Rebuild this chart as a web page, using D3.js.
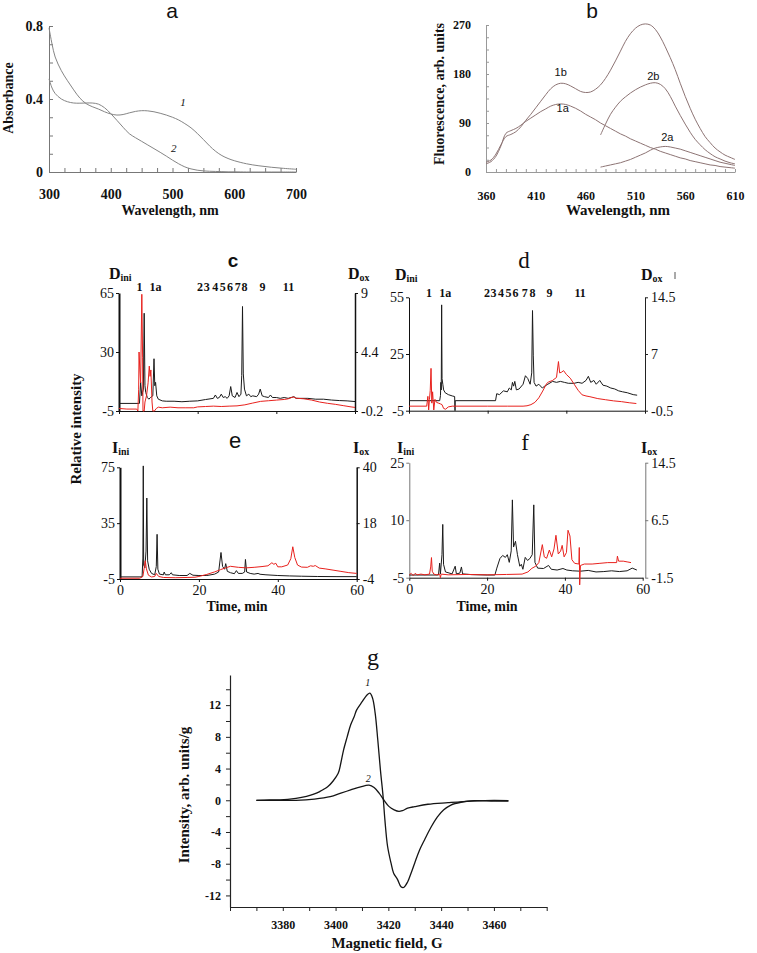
<!DOCTYPE html>
<html><head><meta charset="utf-8">
<script src="https://cdn.jsdelivr.net/npm/d3@7"></script>
<style>body{margin:0;background:#fff}svg{display:block}</style>
</head><body>
<svg id="fig" width="757" height="953"></svg>
<script>
// ---------- DATA ----------
// Panel a: absorbance
const aWave = [300,305,310,320,330,340,350,360,370,380,390,400,410,420,430,440,450,460,470,480,490,500,510,520,530,540,550,560,570,580,590,600,620,640,660,680,700];
const aAbs1 = [0.79,0.70,0.63,0.555,0.50,0.45,0.405,0.375,0.358,0.345,0.33,0.318,0.312,0.315,0.324,0.332,0.336,0.335,0.33,0.322,0.312,0.30,0.285,0.265,0.242,0.212,0.178,0.143,0.113,0.09,0.074,0.062,0.045,0.034,0.026,0.02,0.015];
const aAbs2 = [0.51,0.46,0.43,0.40,0.385,0.378,0.377,0.378,0.378,0.372,0.352,0.32,0.283,0.245,0.21,0.188,0.168,0.148,0.128,0.108,0.087,0.065,0.045,0.028,0.017,0.01,0.006,0.004,0.003,0.002,0.001,0.001,0,0,0,0,0];
const aXTicks = [300,325,350,375,400,425,450,475,500,525,550,575,600,625,650,675,700];
const aXLabels = [300,400,500,600,700];
const aYTicks = [0,0.1,0.2,0.3,0.4,0.5,0.6,0.7,0.8];
const aYLabels = ["0","0.4","0.8"];
const aCurveLbl = ["1","2"], aCurveLblX = [517,502], aCurveLblY = [0.36,0.11];

// Panel b: fluorescence
const bWave1 = [360,365,370,375,380,385,390,395,400,405,410,415,420,425,430,435,440,445,450,455,460,465,470,475,480,485,490,495,500,505,510,515,520,525,530,535,540,545,550,555,560,565,570,575,580,585,590,595,600,605,610];
const bFl1b = [18,22,33,50,65,69,74,83,95,106,118,130,142,153,160,163,162,158,153,148,146,147,152,160,172,187,204,222,240,254,264,270,272,270,262,248,230,210,188,163,139,117,97,80,65,54,44,37,31,27,23];
const bFl1a = [15,19,29,48,71,76,80,86,93,99,105,111,116,121,124,125,124,121,117,112,106,101,96,90,85,80,75,70,66,61,57,53,49,45,42,38,35,32,29,26,24,21,19,17,15,13,12,10,9,8,7];
const bWave2 = [475,480,485,490,495,500,505,510,515,520,525,530,535,540,545,550,555,560,565,570,575,580,585,590,595,600,605,610];
const bFl2b = [68,88,106,119,130,138,145,151,156,160,163,164,161,153,139,121,104,88,73,60,50,41,34,28,24,20,17,15];
const bFl2a = [9,11,13,15,17,20,23,27,31,35,40,44,46,47,46,44,42,39,36,33,30,27,24,21,18,16,14,12];
const bXTicks = [360,370,380,390,400,410,420,430,440,450,460,470,480,490,500,510,520,530,540,550,560,570,580,590,600,610];
const bXLabels = [360,410,460,510,560,610];
const bYTicks = [0,22.5,45,67.5,90,112.5,135,157.5,180,202.5,225,247.5,270];
const bYLabels = [0,90,180,270];
const bCurveLbl = ["1b","1a","2b","2a"], bCurveLblX = [435,437,528,542], bCurveLblY = [176,110,169,57];

// Panels c-f: chromatograms (time, min)
const timeTicks = [0,20,40,60];
const cLeftTicks = [65,30,-5], cRightTicks = [9,4.4,-0.2];
const dLeftTicks = [55,25,-5], dRightTicks = [14.5,7,-0.5];
const eLeftTicks = [75,35,-5], eRightTicks = [40,18,-4];
const fLeftTicks = [25,10,-5], fRightTicks = [14.5,6.5,-1.5];
const peakLbl = ["1","1a","2","3","4","5","6","7","8","9","11"];
const cPeakT = [5.2,9.25,20.6,22.3,24.5,26.4,28.2,30.2,31.9,36.5,43.1];
const dPeakT = [5.1,9.2,19.8,21.5,23.4,25.3,27.1,29.4,31.4,35.7,43.5];

const cBlkT = [0,5.2,5.5,5.8,6.0,6.2,6.4,6.6,6.8,7.2,7.6,8.0,8.6,8.9,9.1,9.3,9.6,10,11,12,14,16,18,20,22,24,24.5,25,25.5,26,26.5,27,27.5,28,28.4,28.8,29.5,30,30.5,31,31.2,31.4,31.6,31.9,32.4,33,33.5,34,35,35.5,35.9,36.4,37,38,38.5,39,40,41,42,43,44.5,45,46,48,50,52,54,56,58,60];
const cBlkV = [-0.5,-0.5,12,4,6,8,53,10,6,3,2,3,4,26,10,12,4,2,1,0.8,0.8,0.5,0.8,1,1.8,2.5,4.5,2.5,3,5,3,3.5,2.5,4,9.5,4,3,6,3.5,5,16,57,17,8,4,5,3.5,4,3.5,5,8,4,3.5,3,4.5,3,3,2.5,3,2.5,3.5,2.5,2.5,2.5,2,2,1.5,1.2,1,0.6];
const cRedT = [0,2,4.5,4.8,5.0,5.1,5.3,5.5,5.8,6.0,6.1,6.4,6.6,7.0,7.4,7.7,7.9,8.1,8.4,8.6,9,9.5,10,11,13,15,17,19,20,22,24,26,28,30,32,34,36,38,40,42,43,44.3,45,47,49,51,53,55,57,59,60];
const cRedV = [0,-0.05,-0.05,-0.2,1.5,4.4,3.0,2.0,8.9,4.0,-0.2,-0.2,0.5,1.0,2.0,3.3,2.5,3.0,0.5,-0.2,-0.2,0,0.1,0.05,0.1,0.05,0.05,0.05,0.12,0.15,0.18,0.15,0.18,0.2,0.28,0.42,0.55,0.6,0.65,0.7,0.75,0.9,0.8,0.75,0.65,0.5,0.4,0.32,0.22,0.12,0.08];

const dBlkT = [0,7.8,8.0,8.1,8.2,8.3,8.4,8.6,8.8,9.2,10,11,11.6,11.7,11.75,22,22.3,23,24,25,25.5,26,26.3,26.6,26.9,27.3,28,29,29.6,30.2,30.8,31.2,31.4,31.6,31.8,32.3,33,33.9,34.5,35.3,36.5,37.5,38.5,39.5,40.5,42,43,44,45,45.6,46.2,47,47.6,48.5,49.3,50.3,51.3,52.3,53.3,54.3,55.5,57,58];
const dBlkV = [0.3,0.3,3,10,6,51,12,9,6,4.5,3.5,2.8,2.5,-5,0.3,0.3,4,3.5,5.5,5,7,6,10,8,10.5,6,6.5,9,13.5,12,9,15,48,24,10,8,9,7,8,9,10.5,10,10.5,10,9.5,9.5,10,9.5,11,13.2,10,11,9,11,8.5,8,7,6.5,5.5,5,4.5,3.5,3.2];
const dRedT = [0,4.5,4.8,5.0,5.2,5.4,5.6,5.8,6.0,6.3,6.6,7.0,7.5,8.0,8.4,8.8,9.3,10,11,15,20,25,29,30,31,32,33,34,35,35.5,36.5,37.5,38,38.3,38.8,39.3,40,41,42,43,44,45,46,48,50,52,54,56,57.8];
const dRedV = [0.1,0.1,1.4,-0.4,1.0,2.2,5.1,0.5,2.0,-0.4,1.0,0.6,0.5,0.4,0.3,-0.2,-0.3,0,0.1,0.1,0.1,0.1,0.1,0.15,0.3,0.6,1.2,2.1,3.1,3.3,3.5,3.9,6.0,4.5,4.6,4.8,4.3,3.8,3.0,2.2,1.6,1.45,1.35,1.1,0.95,0.8,0.7,0.55,0.45];

const eBlkT = [0,5.6,5.8,5.9,6.0,6.3,6.6,6.8,7.0,7.4,8,8.8,9.2,9.4,9.6,10,11,11.2,11.5,12.5,13,13.3,15,17,17.7,18.5,20,22,24,25,25.6,26.0,26.5,26.8,27.2,28,29,29.5,30,31,31.6,31.8,32.1,33,34,35,35.5,37,40,43,46,50,55,60];
const eBlkV = [-3.5,-3.5,10,76,5,3,15,53,8,2,-1,-2,4,27,2,-1.5,-2,0,-2,-2,-0.5,-2,-2.5,-2.5,-1,-2.3,-2.5,-2.5,-1.5,0,14,4,2,6,0.5,-0.5,-1.2,1,-1,-1,0,9,0,-1,-1.5,-1,-1.6,-2,-2.5,-2.8,-3,-3.2,-3.3,-3.3];
const eRedT = [0,5,5.8,6.1,6.4,6.7,7.2,8,8.8,9.2,9.8,11,14,17,19,20,22,24,25.5,27,28,30,32,34,36,37.5,38.5,39,39.5,40,41,42.5,43.3,43.8,44.3,45,46,47.5,48.3,49,49.5,50.5,52,54,56,58,60];
const eRedV = [-3.7,-3.7,-3.0,0,3.2,0,-2.5,-3.2,-3.0,-1.8,-3.0,-3.4,-3.5,-3.4,-3.3,-3.0,-2.2,-1.2,-0.3,0.5,1.0,0.6,0.4,0.6,0.9,1.2,2.4,1.8,2.2,0.8,0.8,1.5,4,8.7,4.5,1.5,0.7,0.6,1.2,1.0,1.3,0.3,0,-0.5,-1,-1.5,-1.8];

const fBlkT = [0,7.5,7.8,8.0,8.4,8.6,8.8,9.3,11,11.8,12.1,13,13.4,13.7,16,20,22,22.5,23.3,24,24.7,25.2,25.7,26.2,26.5,26.8,27.3,27.8,28.4,28.8,29.2,29.8,30.4,31,31.6,32.0,32.3,33,34.5,35.8,36.5,38,39.5,40.5,42,44,46,48,50,52,54,56,57.3,58.5];
const fBlkV = [-4.3,-4.3,-1.2,-4.0,1,8.9,-1.5,-3.5,-4,-2,-4,-3.8,-2.2,-4,-4.2,-4.3,-4.3,-2.5,0,0.8,0.3,1.0,-1,2,15.3,3,4.5,1,-2,-1.5,-2.8,0.3,-0.5,0,1,14,-1,-2.5,-2.6,-1.8,-2.8,-3,-2.6,-3,-3.2,-3.3,-3.1,-3.5,-3.4,-3.2,-3.4,-3.2,-2.5,-3.0];
const fRedT = [0,0.5,1,1.5,2,3,4,5.2,5.5,5.7,5.9,6.3,7,7.8,8.0,8.2,10,15,20,25,29,30.5,31.5,32.5,33.3,34.2,34.7,35.3,36,36.6,37.2,37.7,38.3,38.9,39.3,39.8,40.4,40.8,41.3,41.8,42.5,43.6,43.7,43.8,44,45,47,49,51,53.3,53.5,53.8,55,56,57];
const fRedV = [-1.1,-0.9,-1.2,-0.9,-1.1,-1.0,-1.1,-1.0,0,1.3,-0.6,-1.0,-1.1,-1.0,-1.5,-1.0,-1.1,-1.05,-1.1,-1.05,-1.0,-0.7,-0.2,0.1,0.6,3.1,1.4,1.2,2.35,1.4,2.5,4.4,1.8,2.2,3.0,1.4,2.0,5.1,4.3,1.0,0.5,0.4,2.7,-2.5,0.2,0.4,0.4,0.5,0.6,0.6,1.5,0.8,0.8,0.7,0.6];

// Panel g: EPR
const g1Field = [3370,3375,3379,3385,3389,3392,3394,3397,3399,3401,3402,3403,3404.4,3405.7,3407,3408,3410,3412,3413,3414,3415,3416,3417,3418,3418.7,3419.7,3421,3422,3423.5,3424.8,3425.8,3427.3,3428.6,3430,3431.8,3433.7,3436,3438.6,3441,3443.7,3447.5,3452.5,3460,3465.5];
const g1Int = [0,0.05,0.05,0.25,0.5,0.8,1.1,1.7,2.4,3.4,4.7,6.3,8,9.5,10.5,11.4,12.4,13.3,13.5,12.9,11,7.6,3.8,0.5,-2.5,-5.8,-7.9,-9.2,-10,-10.9,-11,-10.3,-9.2,-7.9,-6.3,-5,-3.5,-2.1,-1.2,-0.6,-0.25,-0.05,-0.1,-0.1];
const g2Field = [3370,3385,3392,3398,3402,3405.7,3409.5,3412.7,3414.6,3416.5,3418.4,3420.3,3422.2,3424,3425.4,3427.3,3430,3435,3442.6,3451.5,3460,3465.5];
const g2Int = [0,0,0.15,0.45,0.9,1.3,1.7,1.9,1.6,0.9,0,-0.8,-1.2,-1.4,-1.3,-1,-0.8,-0.5,-0.3,-0.1,0,-0.05];
const gXTicks = [3360,3370,3380,3390,3400,3410,3420,3430,3440,3450,3460,3470,3480];
const gXLabels = [3380,3400,3420,3440,3460];
const gYTicks = [-12,-10,-8,-6,-4,-2,0,2,4,6,8,10,12,14];
const gYLabels = [-12,-8,-4,0,4,8,12];
const gCurveLbl = ["1","2"], gCurveLblX = [3412.2,3412.4], gCurveLblY = [14.4,2.3];

// ---------- DRAWING ----------
const SERIF = "'Liberation Serif','Times New Roman',serif";
const SANS = "'Liberation Sans',Arial,sans-serif";
const svg = d3.select("#fig");
svg.append("rect").attr("width",757).attr("height",953).attr("fill","#fff");

function line(g, xs, ys, sx, sy, color, w, curve){
  const pts = xs.map((x,i)=>[x, ys[i]]);
  g.append("path")
   .attr("d", d3.line().x(d=>sx(d[0])).y(d=>sy(d[1])).curve(curve||d3.curveLinear)(pts))
   .attr("fill","none").attr("stroke",color).attr("stroke-width",w)
   .attr("stroke-linejoin","round");
}
function txt(x,y,s,o){
  o=o||{};
  return svg.append("text").attr("x",x).attr("y",y).text(s)
    .attr("font-family",o.family||SERIF).attr("font-size",o.size||13)
    .attr("font-weight",o.weight||"normal").attr("font-style",o.style||"normal")
    .attr("text-anchor",o.anchor||"middle").attr("fill",o.fill||"#111");
}
function vtxt(x,y,s,o){
  o=o||{};
  svg.append("text").attr("transform",`translate(${x},${y}) rotate(-90)`).text(s)
    .attr("font-family",o.family||SERIF).attr("font-size",o.size||14)
    .attr("font-weight",o.weight||"bold").attr("text-anchor","middle").attr("fill","#111");
}
function styleAxis(g, color, w, fontSize, weight){
  g.attr("font-family",SERIF);
  g.select(".domain").attr("stroke",color).attr("stroke-width",w);
  g.selectAll(".tick line").attr("stroke",color).attr("stroke-width",1);
  g.selectAll(".tick text").attr("font-family",SERIF).attr("font-size",fontSize)
    .attr("font-weight",weight).attr("fill","#111");
}
function sub(x,y,main,subs,size,anchor){
  const t = svg.append("text").attr("x",x).attr("y",y).attr("font-family",SERIF)
    .attr("font-weight","bold").attr("font-size",size).attr("fill","#111")
    .attr("text-anchor",anchor||"start");
  t.append("tspan").text(main);
  t.append("tspan").attr("font-size",size*0.62).attr("dy",2).text(subs);
}
const plain = d => String(d);

// ----- Panel a -----
{
  const sx = d3.scaleLinear([300,700],[49,296]);
  const sy = d3.scaleLinear([0,0.8],[172,26]);
  const g = svg.append("g");
  const gx = g.append("g").attr("transform","translate(0,172)")
    .call(d3.axisBottom(sx).tickValues(aXTicks).tickSize(-4).tickSizeOuter(0).tickPadding(17)
      .tickFormat(d=>aXLabels.includes(d)?String(d):""));
  styleAxis(gx,"#777",1,14,"bold");
  const gy = g.append("g").attr("transform","translate(49,0)")
    .call(d3.axisLeft(sy).tickValues(aYTicks).tickSize(-4).tickSizeOuter(0).tickPadding(6)
      .tickFormat((d,i)=> i===0?aYLabels[0]: i===4?aYLabels[1]: i===8?aYLabels[2]:""));
  styleAxis(gy,"#777",1,14,"bold");
  line(g,aWave,aAbs1,sx,sy,"#858585",1,d3.curveCatmullRom);
  line(g,aWave,aAbs2,sx,sy,"#858585",1,d3.curveCatmullRom);
  aCurveLbl.forEach((l,i)=>txt(sx(aCurveLblX[i]),sy(aCurveLblY[i]),l,{size:11,style:"italic"}));
  txt(170,215,"Wavelength, nm",{size:14,weight:"bold"});
  vtxt(13,98,"Absorbance",{size:14});
  txt(172,18,"a",{family:SANS,size:21});
}

// ----- Panel b -----
{
  const sx = d3.scaleLinear([360,610],[486,735]);
  const sy = d3.scaleLinear([0,270],[172,25]);
  const g = svg.append("g");
  const gx = g.append("g").attr("transform","translate(0,172)")
    .call(d3.axisBottom(sx).tickValues(bXTicks).tickSize(-3).tickSizeOuter(0).tickPadding(19)
      .tickFormat(d=>bXLabels.includes(d)?String(d):""));
  styleAxis(gx,"#999",1,12,"bold");
  const gy = g.append("g").attr("transform","translate(486,0)")
    .call(d3.axisLeft(sy).tickValues(bYTicks).tickSize(-3).tickSizeOuter(0).tickPadding(15)
      .tickFormat(d=>bYLabels.includes(d)?String(d):""));
  styleAxis(gy,"#999",1,12,"bold");
  const col = "#8d7474";
  line(g,bWave1,bFl1b,sx,sy,col,1,d3.curveCatmullRom);
  line(g,bWave1,bFl1a,sx,sy,col,1,d3.curveCatmullRom);
  line(g,bWave2,bFl2b,sx,sy,col,1,d3.curveCatmullRom);
  line(g,bWave2,bFl2a,sx,sy,col,1,d3.curveCatmullRom);
  bCurveLbl.forEach((l,i)=>txt(sx(bCurveLblX[i]),sy(bCurveLblY[i]),l,{family:SANS,size:11}));
  txt(618,215,"Wavelength, nm",{size:15,weight:"bold"});
  vtxt(444,94,"Fluorescence, arb. units",{size:14});
  txt(592,18,"b",{family:SANS,size:21});
}

// ----- Chromatograms -----
function chrom(o){
  const sx = d3.scaleLinear([0,60],[o.x0,o.x1]);
  const syL = d3.scaleLinear([o.lt[2],o.lt[0]],[o.yb,o.yt]);
  const syR = d3.scaleLinear([o.rt[2],o.rt[0]],[o.yb,o.yt]);
  const g = svg.append("g");
  const gb = g.append("g").attr("transform",`translate(0,${o.yb})`)
    .call(d3.axisBottom(sx).tickValues(timeTicks).tickSize(3).tickSizeOuter(0).tickPadding(3)
      .tickFormat(d=>o.xlabels?String(d):""));
  styleAxis(gb,"#111",1,14,"normal");
  const gl = g.append("g").attr("transform",`translate(${o.x0},0)`)
    .call(d3.axisLeft(syL).tickValues(o.lt).tickSize(3).tickSizeOuter(0).tickPadding(2).tickFormat(plain));
  styleAxis(gl,o.lcol,o.lw,14,"normal");
  const gr = g.append("g").attr("transform",`translate(${o.xr},0)`)
    .call(d3.axisRight(syR).tickValues(o.rt).tickSize(3).tickSizeOuter(0).tickPadding(3).tickFormat(plain));
  styleAxis(gr,o.rcol,o.rw,14,"normal");
  line(g,o.bt,o.bv,sx,syL,"#1a1a1a",1);
  line(g,o.rtT,o.rv,sx,syR,"#e8211d",1);
  if(o.peaks) o.peaks.forEach((t,i)=>txt(sx(t),o.py,peakLbl[i],{size:12,weight:"bold"}));
  sub(o.lx,o.ly,o.sym,"ini",16);
  sub(o.rx,o.ly,o.sym,"ox",16);
  return sx;
}
chrom({x0:119,x1:355,xr:355,yt:293,yb:411,lt:cLeftTicks,rt:cRightTicks,lcol:"#111",lw:2,rcol:"#111",rw:1.5,
  bt:cBlkT,bv:cBlkV,rtT:cRedT,rv:cRedV,peaks:cPeakT,py:291,sym:"D",lx:109,rx:348,ly:279});
txt(233,267,"c",{family:SANS,size:19,weight:"bold"});
chrom({x0:409,x1:645,xr:645,yt:297.3,yb:410.7,lt:dLeftTicks,rt:dRightTicks,lcol:"#111",lw:1,rcol:"#222",rw:1,
  bt:dBlkT,bv:dBlkV,rtT:dRedT,rv:dRedV,peaks:dPeakT,py:297,sym:"D",lx:395,rx:641,ly:280});
txt(524,268,"d",{size:23});
svg.append("line").attr("x1",675).attr("x2",675).attr("y1",272).attr("y2",279).attr("stroke","#555").attr("stroke-width",1);
chrom({x0:120,x1:356.7,xr:356.7,yt:467.3,yb:579,lt:eLeftTicks,rt:eRightTicks,lcol:"#111",lw:2,rcol:"#111",rw:1.5,
  bt:eBlkT,bv:eBlkV,rtT:eRedT,rv:eRedV,xlabels:true,sym:"I",lx:112,rx:353,ly:453});
txt(235,448,"e",{family:SANS,size:22});
chrom({x0:409.3,x1:642.7,xr:645.3,yt:462.7,yb:577.7,lt:fLeftTicks,rt:fRightTicks,lcol:"#777",lw:1,rcol:"#777",rw:1,
  bt:fBlkT,bv:fBlkV,rtT:fRedT,rv:fRedV,xlabels:true,sym:"I",lx:397,rx:641,ly:453});
txt(525,450,"f",{size:23});
txt(237,611,"Time, min",{size:14,weight:"bold"});
txt(487,611,"Time, min",{size:14,weight:"bold"});
vtxt(81,429,"Relative intensity",{size:15});

// ----- Panel g -----
{
  const sx = d3.scaleLinear([3360,3480],[230,546.7]);
  const sy = d3.scaleLinear([-13.46,15.8],[907,675]);
  const g = svg.append("g");
  const gx = g.append("g").attr("transform","translate(0,907)")
    .call(d3.axisBottom(sx).tickValues(gXTicks).tickSize(4).tickSizeOuter(0).tickPadding(9)
      .tickFormat(d=>gXLabels.includes(d)?String(d):""));
  styleAxis(gx,"#222",1.2,12,"bold");
  const gy = g.append("g").attr("transform","translate(230,0)")
    .call(d3.axisLeft(sy).tickValues(gYTicks).tickSize(4).tickSizeOuter(0).tickPadding(5)
      .tickFormat(d=>gYLabels.includes(d)?String(d):""));
  styleAxis(gy,"#222",1.2,12,"bold");
  line(g,g1Field,g1Int,sx,sy,"#151515",1.3,d3.curveCatmullRom);
  line(g,g2Field,g2Int,sx,sy,"#151515",1.3,d3.curveCatmullRom);
  gCurveLbl.forEach((l,i)=>txt(sx(gCurveLblX[i]),sy(gCurveLblY[i]),l,{size:10,style:"italic"}));
  txt(387,948,"Magnetic field, G",{size:15,weight:"bold"});
  vtxt(189,795,"Intensity, arb. units/g",{size:15});
  txt(373,665,"g",{size:24});
}
</script>
</body></html>
